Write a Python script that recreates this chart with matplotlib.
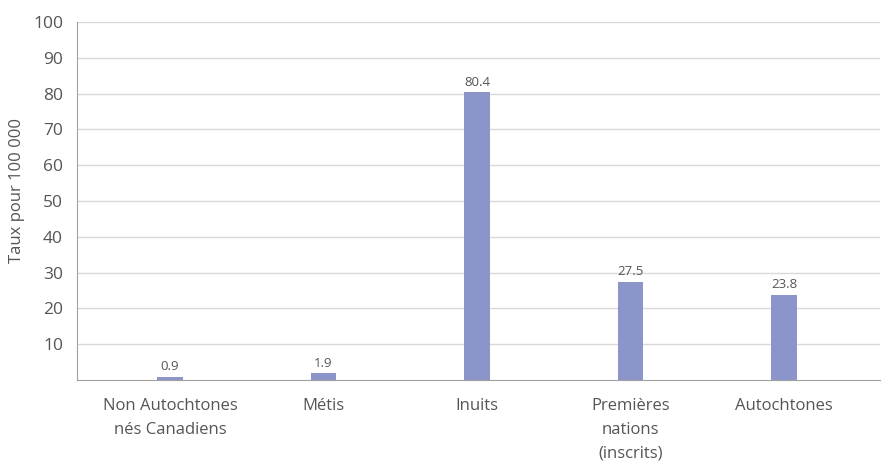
import numpy as np
import matplotlib.pyplot as plt

plt.rcParams['font.family'] = ['Open Sans', 'DejaVu Sans']

# Données
categories = ['Non Autochtones\nnés Canadiens', 'Métis', 'Inuits',
              'Premières\nnations\n(inscrits)', 'Autochtones']
taux = [0.9, 1.9, 80.4, 27.5, 23.8]
yticks = [10, 20, 30, 40, 50, 60, 70, 80, 90, 100]

bar_color = '#8c95c9'
text_color = '#555555'

fig = plt.figure(figsize=(8.85, 4.65), dpi=100)
ax = fig.add_axes([77 / 885, 1 - 380 / 465, 803 / 885, 358 / 465])

x = np.arange(len(categories))
ax.bar(x, taux, width=0.165, color=bar_color, zorder=3)

# étiquettes de valeurs au-dessus des barres
for xi, v in zip(x, taux):
    ax.text(xi, v + 1.0, f'{v:.1f}', ha='center', va='bottom',
            fontsize=9.5, color=text_color)

ax.set_xlim(-0.605, 4.625)
ax.set_ylim(0, 100)
ax.set_yticks(yticks)
ax.set_yticklabels([str(t) for t in yticks], fontsize=12.5, color=text_color)
ax.set_xticks(x)
ax.set_xticklabels(categories, fontsize=12, color=text_color, linespacing=1.65)
ax.tick_params(axis='y', length=0, pad=10)
ax.tick_params(axis='x', length=0, pad=13)

ax.yaxis.grid(True, color='#d9d9d9', linewidth=1, zorder=0)
fig.text(17 / 885, 1 - 190 / 465, 'Taux pour 100 000', rotation=90,
         ha='center', va='center', fontsize=12, color=text_color)

for s in ['top', 'right']:
    ax.spines[s].set_visible(False)
ax.spines['left'].set_color('#a0a0a0')
ax.spines['bottom'].set_color('#a0a0a0')

fig.savefig('out.png', dpi=100)
